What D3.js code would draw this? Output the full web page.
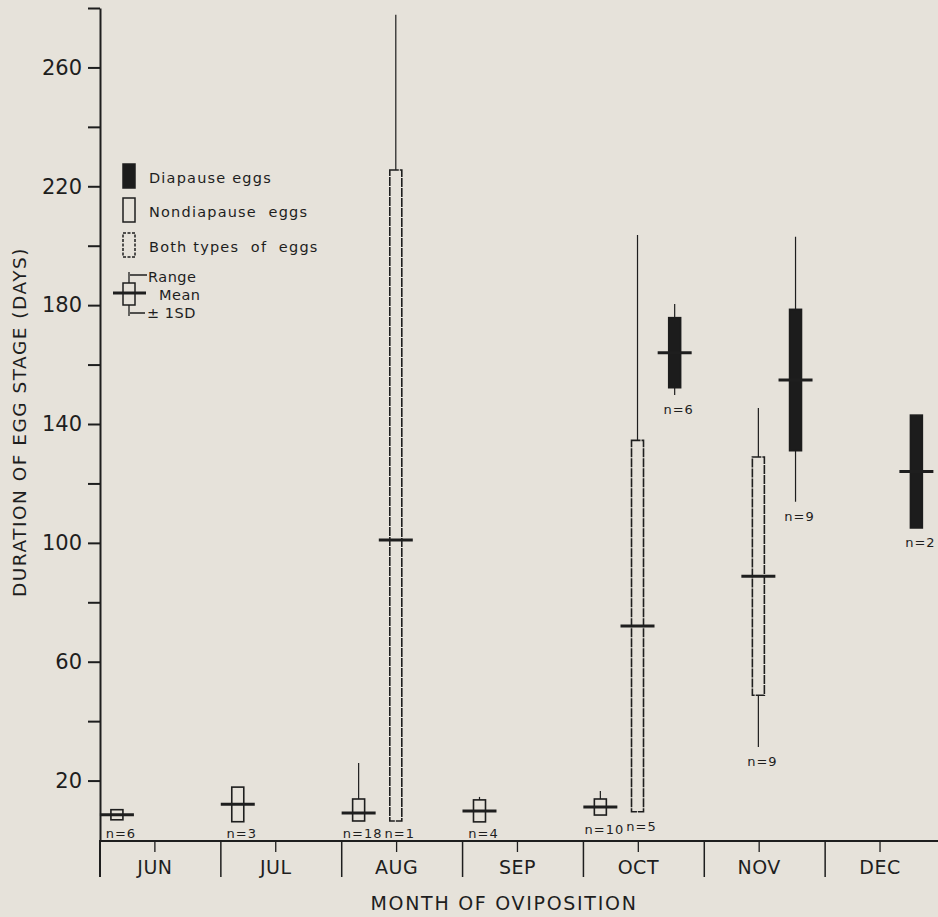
<!DOCTYPE html>
<html>
<head>
<meta charset="utf-8">
<script src="https://cdn.jsdelivr.net/npm/d3@7"></script>
<style>
  html, body { margin: 0; padding: 0; background: #e6e2da; }
  svg { display: block; }
  text { font-family: "DejaVu Sans", sans-serif; fill: #1e1e1e; }
</style>
</head>
<body>
<svg id="chart" width="938" height="917"></svg>
<script>
// Months of oviposition and egg types
const months = ["JUN", "JUL", "AUG", "SEP", "OCT", "NOV", "DEC"];
const eggTypes = ["Nondiapause", "Both", "Diapause"];

// One entry per group of eggs: month, type, sample size and duration stats (days)
const groupMonth = ["JUN", "JUL", "AUG", "AUG", "SEP", "OCT", "OCT", "OCT", "NOV", "NOV", "DEC"];
const groupType  = ["Nondiapause", "Nondiapause", "Nondiapause", "Both", "Nondiapause",
                    "Nondiapause", "Both", "Diapause", "Both", "Diapause", "Diapause"];
const groupN     = [6, 3, 18, 1, 4, 10, 5, 6, 9, 9, 2];
const groupMean  = [8.5, 12, 9.1, 101, 9.8, 11.1, 72, 164, 88.8, 154.8, 124];
const groupSD    = [1.7, 5.85, 4.7, 124.5, 3.7, 2.7, 62.5, 11.8, 40.1, 23.8, 19];
const groupMin   = [6.8, 6.1, 6.4, 6.4, 6.1, 8.4, 9.5, 149.8, 31.3, 113.8, 105];
const groupMax   = [10.2, 17.8, 25.9, 277.7, 14.5, 16.5, 203.6, 180.4, 145.4, 203, 143];

// Y axis ticks: every 20 days, labels every 40
const yTicks = [20, 40, 60, 80, 100, 120, 140, 160, 180, 200, 220, 240, 260, 280];
const yLabelled = [20, 60, 100, 140, 180, 220, 260];

const groups = groupMonth.map((m, i) => ({
  month: m, type: groupType[i], n: groupN[i], mean: groupMean[i],
  sd: groupSD[i], min: groupMin[i], max: groupMax[i]
}));

const ink = "#1e1e1e";
const bg = "#e6e2da";
const svg = d3.select("#chart");

const y = d3.scaleLinear().domain([0, 280]).range([840, 8]);
const x = d3.scaleBand().domain(months).range([100, 946]);
const bw = x.bandwidth();
const slot = d3.scalePoint().domain(eggTypes).range([0.14 * bw, 0.755 * bw]);
const monthTick = d3.scalePoint().domain(months)
  .range([x(months[0]) + 0.45 * bw, x(months[months.length - 1]) + 0.45 * bw]);

// Y axis
const yAxis = svg.append("g")
  .attr("transform", "translate(100,0)")
  .call(d3.axisLeft(y).tickValues(yTicks).tickSize(12).tickSizeOuter(0).tickPadding(6)
    .tickFormat(d => yLabelled.includes(d) ? d : ""));
yAxis.select(".domain").attr("stroke", ink).attr("stroke-width", 2);
yAxis.selectAll(".tick line").attr("stroke", ink).attr("stroke-width", 2);
yAxis.selectAll(".tick text").attr("font-size", 21).attr("fill", ink)
  .style("font-family", "'DejaVu Sans', sans-serif");

// X axis baseline
svg.append("line")
  .attr("x1", 100).attr("x2", 938).attr("y1", y(0) + 1).attr("y2", y(0) + 1)
  .attr("stroke", ink).attr("stroke-width", 2.2);

// Month separators
svg.append("g").selectAll("line").data(months).join("line")
  .attr("x1", d => x(d)).attr("x2", d => x(d))
  .attr("y1", y(0)).attr("y2", 877)
  .attr("stroke", ink).attr("stroke-width", d => d === months[0] ? 2 : 1.5);

// Month ticks and labels
const xAxis = svg.append("g")
  .attr("transform", `translate(0,${y(0) + 1})`)
  .call(d3.axisBottom(monthTick).tickSize(11).tickSizeOuter(0).tickPadding(9));
xAxis.select(".domain").remove();
xAxis.selectAll(".tick line").attr("stroke", ink).attr("stroke-width", 1.3);
xAxis.selectAll(".tick text").attr("font-size", 19).attr("fill", ink)
  .attr("letter-spacing", 0.5)
  .style("font-family", "'DejaVu Sans', sans-serif");

// Axis titles
svg.append("text")
  .attr("x", 504).attr("y", 910)
  .attr("text-anchor", "middle").attr("font-size", 19)
  .attr("letter-spacing", 1.7)
  .text("MONTH OF OVIPOSITION");

svg.append("text")
  .attr("transform", "translate(26,422) rotate(-90)")
  .attr("text-anchor", "middle").attr("font-size", 18.5)
  .attr("letter-spacing", 1.5)
  .text("DURATION OF EGG STAGE (DAYS)");

// Groups: range whisker, mean ± 1 SD box, mean bar
const boxW = 12;
const g = svg.append("g");
groups.forEach(d => {
  const cx = x(d.month) + slot(d.type);
  const top = Math.min(d.mean + d.sd, d.max);
  const bot = Math.max(d.mean - d.sd, d.min);

  g.append("line")
    .attr("x1", cx).attr("x2", cx)
    .attr("y1", y(d.max)).attr("y2", y(d.min))
    .attr("stroke", ink).attr("stroke-width", 1.2);

  const r = g.append("rect")
    .attr("x", cx - boxW / 2).attr("width", boxW)
    .attr("y", y(top)).attr("height", y(bot) - y(top));
  if (d.type === "Diapause") {
    r.attr("fill", "#1c1c1c").attr("stroke", "#1c1c1c").attr("stroke-width", 1.5);
  } else {
    r.attr("fill", bg).attr("stroke", ink).attr("stroke-width", 1.6)
      .attr("stroke-dasharray", d.type === "Both" ? "9,1" : null);
  }

  g.append("line")
    .attr("x1", cx - 17).attr("x2", cx + 17)
    .attr("y1", y(d.mean)).attr("y2", y(d.mean))
    .attr("stroke", ink).attr("stroke-width", 3);

  g.append("text")
    .attr("x", cx + 4)
    .attr("y", Math.min(y(d.min) + 19, 838))
    .attr("text-anchor", "middle").attr("font-size", 13)
    .attr("letter-spacing", 1)
    .text(`n=${d.n}`);
});

// Legend
const leg = svg.append("g");
const legendRows = [
  { label: "Diapause eggs", fill: "#1c1c1c", dash: null, y0: 164 },
  { label: "Nondiapause  eggs", fill: bg, dash: null, y0: 198 },
  { label: "Both types  of  eggs", fill: bg, dash: "3,1.5", y0: 233 }
];
legendRows.forEach(r => {
  leg.append("rect")
    .attr("x", 123).attr("y", r.y0).attr("width", 12).attr("height", 24)
    .attr("fill", r.fill).attr("stroke", ink).attr("stroke-width", 1.5)
    .attr("stroke-dasharray", r.dash);
  leg.append("text")
    .attr("x", 149).attr("y", r.y0 + 19)
    .attr("font-size", 14.5).attr("letter-spacing", 1.2)
    .style("white-space", "pre")
    .text(r.label);
});

// Key for range / mean / SD
leg.append("line").attr("x1", 129).attr("x2", 129).attr("y1", 272).attr("y2", 316)
  .attr("stroke", ink).attr("stroke-width", 1.3);
leg.append("rect").attr("x", 123).attr("y", 283).attr("width", 12).attr("height", 22)
  .attr("fill", bg).attr("stroke", ink).attr("stroke-width", 1.5);
leg.append("line").attr("x1", 113).attr("x2", 146).attr("y1", 293).attr("y2", 293)
  .attr("stroke", ink).attr("stroke-width", 3);
leg.append("line").attr("x1", 130).attr("x2", 147).attr("y1", 275).attr("y2", 275)
  .attr("stroke", ink).attr("stroke-width", 1.5);
leg.append("line").attr("x1", 130).attr("x2", 145).attr("y1", 313).attr("y2", 313)
  .attr("stroke", ink).attr("stroke-width", 1.5);
leg.append("text").attr("x", 148).attr("y", 282).attr("font-size", 14.5)
  .attr("letter-spacing", 0.5).text("Range");
leg.append("text").attr("x", 159).attr("y", 300).attr("font-size", 14.5)
  .attr("letter-spacing", 0.5).text("Mean");
leg.append("text").attr("x", 147).attr("y", 318).attr("font-size", 14.5)
  .attr("letter-spacing", 0.5).style("white-space", "pre").text("± 1SD");
</script>
</body>
</html>
